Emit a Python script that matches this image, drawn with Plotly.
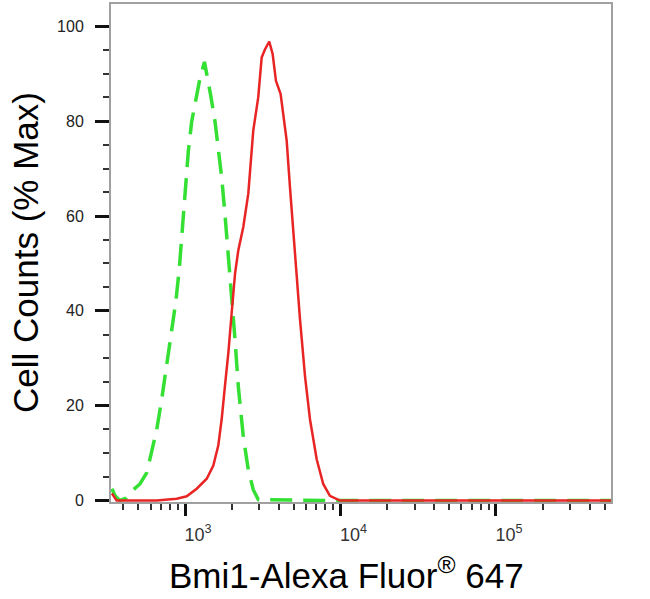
import plotly.graph_objects as go

# Red (Bmi1 antibody) histogram: fluorescence intensity vs % max
red_x = [339, 363, 658, 885, 1026, 1189, 1380, 1521, 1637, 1722, 1807, 1901, 1995,
         2099, 2203, 2371, 2553, 2748, 2958, 3112, 3266, 3483, 3664, 3846, 4121,
         4508, 4732, 5093, 5495, 5916, 6368, 7031, 7745, 8551, 9931, 20000, 50000,
         100000, 300000, 550000]
red_y = [1.5, 0, 0, 0.4, 0.9, 2.5, 4.6, 7.4, 11.6, 17.2, 24.2, 31.2, 39.5,
         47.9, 52.8, 57.7, 64.7, 78, 85, 93.4, 95.1, 96.8, 94.1, 88.5, 85.7,
         75.9, 66.1, 52.1, 38.1, 26.2, 17.1, 8.7, 3.5, 1.0, 0, 0, 0,
         0, 0, 0]

# Green (isotype control) histogram
green_x = [339, 355, 380, 417, 443, 513, 568, 611, 658, 708, 762, 820, 875, 920,
           966, 1014, 1050, 1104, 1178, 1247, 1334, 1390, 1462, 1560, 1637, 1722,
           1807, 1901, 1995, 2099, 2203, 2371, 2553, 2748, 2958, 10000, 100000, 550000]
green_y = [2.5, 1.0, 0, 0.5, 1.7, 3.5, 5.9, 10.1, 15, 21.3, 28.3, 35.2, 42.2, 49.1,
           57.5, 67.3, 73.6, 79.9, 84.8, 89, 92.5, 89.7, 85.5, 79.9, 74.4, 68.1,
           60.4, 52, 43.6, 33.8, 24, 13.5, 6.5, 2.3, 0.2, 0, 0, 0]

x_major = [1e3, 1e4, 1e5]
x_major_text = ["10<sup>3</sup>", "10<sup>4</sup>", "10<sup>5</sup>"]
x_minor = [m * 10 ** k for k in (2, 3, 4, 5) for m in range(2, 10)]
y_major = [0, 20, 40, 60, 80, 100]

FONT = "Liberation Sans, Arial, sans-serif"

fig = go.Figure()
fig.add_trace(go.Scatter(x=green_x, y=green_y, mode="lines",
                         line=dict(color="#33e033", width=3.5, dash="22px,11px"),
                         showlegend=False))
fig.add_trace(go.Scatter(x=red_x, y=red_y, mode="lines",
                         line=dict(color="#e82424", width=2.5),
                         showlegend=False))

fig.update_layout(
    width=650, height=599,
    margin=dict(l=111, r=39, t=2, b=97),
    paper_bgcolor="white", plot_bgcolor="white",
    font=dict(family=FONT),
    xaxis=dict(
        type="log", range=[2.524, 5.74],
        tickmode="array", tickvals=x_major, ticktext=x_major_text,
        ticks="outside", ticklen=12, tickwidth=3, tickcolor="#111",
        tickfont=dict(size=18, color="#333"),
        ticklabelshift=13, ticklabelstandoff=3,
        minor=dict(tickmode="array", tickvals=x_minor, ticks="outside",
                   ticklen=6, tickwidth=2, tickcolor="#333"),
        showline=True, linecolor="#a0a0a0", linewidth=2, mirror=True,
        showgrid=False, zeroline=False, layer="below traces",
    ),
    yaxis=dict(
        range=[-0.3, 104.7],
        tickmode="array", tickvals=y_major,
        ticks="outside", ticklen=14, tickwidth=3, tickcolor="#111",
        tickfont=dict(size=16, color="#222"), ticklabelstandoff=8,
        minor=dict(dtick=5, ticks="outside", ticklen=6, tickwidth=2, tickcolor="#333"),
        showline=True, linecolor="#a0a0a0", linewidth=2, mirror=True,
        showgrid=False, zeroline=False, layer="below traces",
    ),
    annotations=[
        dict(text="Bmi1-Alexa Fluor<sup>®</sup> 647", xref="paper", yref="paper",
             x=0.47, y=-0.142, xanchor="center", yanchor="middle", showarrow=False,
             font=dict(size=35, color="black", family=FONT)),
        dict(text="Cell Counts (% Max)", xref="paper", yref="paper",
             x=-0.172, y=0.5, xanchor="center", yanchor="middle", showarrow=False,
             textangle=-90, font=dict(size=35, color="black", family=FONT)),
    ],
)

fig.write_html("out.html", config={"displayModeBar": False},
               post_script="document.body.style.margin='0';document.body.style.padding='0';")
